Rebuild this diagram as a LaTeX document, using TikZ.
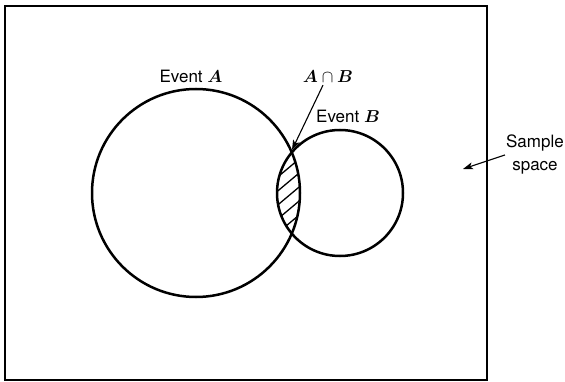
\documentclass[tikz,border=0pt]{standalone}
\usepackage{bm}
\usepackage{fontspec}
\setsansfont{TeX Gyre Heros}
\usetikzlibrary{arrows.meta}
\begin{document}
\begin{tikzpicture}[x=1pt,y=-1pt,
  lbl/.style={font={\sffamily\fontsize{17}{20}\selectfont}, inner sep=0pt},
  mlbl/.style={font={\fontsize{16}{19}\selectfont}, inner sep=0pt},
  ptr/.style={line width=1.1pt, -{Stealth[length=10pt,width=7pt,inset=2.5pt]}},
  ring/.style={draw, circle, line width=2.5pt, inner sep=0pt},
  hatch/.style={line width=1.3pt}]
\useasboundingbox (0,0) rectangle (565,382);
\node[draw, line width=2.2pt, minimum width=482pt, minimum height=374pt, inner sep=0pt] (space) at (246,193) {};
\node[ring, minimum size=208pt] (A) at (196,193) {};
\node[ring, minimum size=126pt] (B) at (340,193) {};
\begin{scope}
  \clip (196,193) circle (104);
  \clip (340,193) circle (63);
  \foreach \c in {-84,-70,...,84}
    \draw[hatch] (242,193+\c+42) -- (342,193+\c-42);
\end{scope}
\coordinate (isect) at (292,150);
\coordinate (sp) at (463,169);
\node[lbl] (la) at (191,76) {Event $\bm{A}$};
\node[mlbl] (lab) at (328,77) {$\bm{A}\cap\bm{B}$};
\node[lbl] (lb) at (348,116) {Event $\bm{B}$};
\node[lbl, align=center, font={\sffamily\fontsize{17}{23}\selectfont}] (ls) at (535,155) {Sample\\space};
\draw[ptr] ([xshift=-5pt,yshift=-2pt]lab.south) -- (isect);
\draw[ptr] ([xshift=-1pt]ls.west) -- (sp);
\end{tikzpicture}
\end{document}
